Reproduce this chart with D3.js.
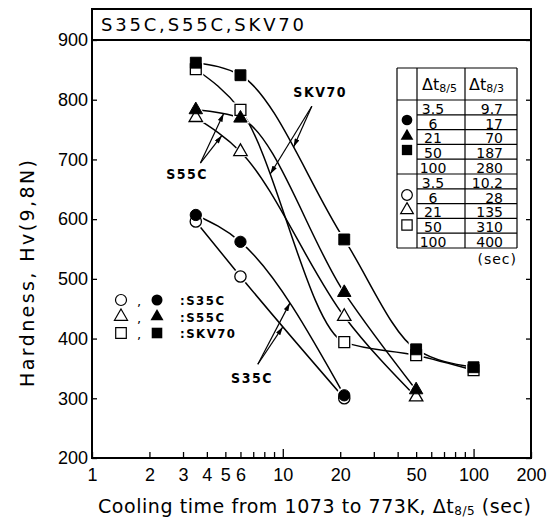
<!DOCTYPE html>
<html>
<head>
<meta charset="utf-8">
<script src="https://cdn.jsdelivr.net/npm/d3@7"></script>
<style>
  body { margin: 0; background: #fff; }
  svg { display: block; }
</style>
</head>
<body>
<div id="chart"></div>
<script>
// cooling time t8/5 (sec) of the measured points
const coolTimes = [3.5, 6, 21, 50, 100];

// Vickers hardness Hv, filled symbols
const s35cFilled = [607, 562, 305];
const s55cFilled = [783, 769, 477, 314];
const skv70Filled = [862, 841, 566, 382, 352];
// Vickers hardness Hv, open symbols
const s35cOpen = [596, 504, 300];
const s55cOpen = [770, 713, 437, 302];
const skv70Open = [851, 783, 394, 372, 347];

const xTicks = [1, 2, 3, 4, 5, 6, 7, 8, 9, 10, 20, 30, 40, 50, 60, 70, 80, 90, 100, 200];
const xTickLabels = [1, 2, 3, 4, 5, 6, 10, 20, 50, 100, 200];
const yTicks = [200, 300, 400, 500, 600, 700, 800, 900];

// t8/5 -> t8/3 table
const tableT85 = ["3.5", "6", "21", "50", "100"];
const tableT83Filled = ["9.7", "17", "70", "187", "280"];
const tableT83Open = ["10.2", "28", "135", "310", "400"];

const W = 558, H = 522;
const svg = d3.select("#chart").append("svg")
  .attr("width", W)
  .attr("height", H)
  .style("font-family", "'DejaVu Sans', sans-serif");

const x = d3.scaleLog().domain([1, 200]).range([92, 531]);
const y = d3.scaleLinear().domain([200, 900]).range([458, 40]);
const frameTop = 9;

const shapes = { circle: d3.symbolCircle, triangle: d3.symbolTriangle, square: d3.symbolSquare };
const sizes = { circle: 100, triangle: 78, square: 118 };

const series = [
  { name: "S35C", shape: "circle", open: true, values: s35cOpen },
  { name: "S55C", shape: "triangle", open: true, values: s55cOpen },
  { name: "SKV70", shape: "square", open: true, values: skv70Open },
  { name: "S35C", shape: "circle", open: false, values: s35cFilled },
  { name: "S55C", shape: "triangle", open: false, values: s55cFilled },
  { name: "SKV70", shape: "square", open: false, values: skv70Filled }
];
series.forEach(s => {
  s.points = s.values.map((v, i) => ({ t: coolTimes[i], hv: v }));
});

// axes (ticks point into the plot)
const xAxis = svg.append("g")
  .attr("transform", `translate(0,${y(200)})`)
  .call(d3.axisBottom(x)
    .tickValues(xTicks)
    .tickSizeInner(-6)
    .tickSizeOuter(0)
    .tickPadding(10)
    .tickFormat(d => xTickLabels.includes(d) ? d : ""));
xAxis.select(".domain").remove();
xAxis.selectAll(".tick line")
  .attr("y2", d => (d === 10 || d === 100) ? -9 : -6)
  .attr("stroke-width", 1.3);
xAxis.selectAll("text")
  .attr("font-family", "'Liberation Sans', Arial, sans-serif")
  .attr("font-size", 18)
  .attr("fill", "#000");

const yAxis = svg.append("g")
  .attr("transform", `translate(${x(1)},0)`)
  .call(d3.axisLeft(y).tickValues(yTicks).tickSizeInner(-5).tickSizeOuter(0).tickPadding(4));
yAxis.select(".domain").remove();
yAxis.selectAll(".tick line").attr("stroke-width", 1.3);
yAxis.selectAll("text")
  .attr("font-size", 18)
  .attr("fill", "#000");

const yAxisR = svg.append("g")
  .attr("transform", `translate(${x(200)},0)`)
  .call(d3.axisRight(y).tickValues(yTicks).tickSizeInner(-5).tickSizeOuter(0).tickFormat(""));
yAxisR.select(".domain").remove();
yAxisR.selectAll(".tick line").attr("stroke-width", 1.3);

// frame and title box
const frame = svg.append("g").attr("stroke", "#000").attr("fill", "none");
frame.append("path")
  .attr("d", `M${x(1)},${frameTop}V${y(200)}H${x(200)}V${frameTop}Z`)
  .attr("stroke-width", 2);
frame.append("line")
  .attr("x1", x(1)).attr("x2", x(200))
  .attr("y1", y(900)).attr("y2", y(900))
  .attr("stroke-width", 2);

svg.append("text")
  .attr("x", 101)
  .attr("y", 31)
  .attr("font-size", 18)
  .attr("textLength", 203)
  .attr("lengthAdjust", "spacing")
  .text("S35C,S55C,SKV70");

// axis titles
const xTitle = svg.append("text")
  .attr("x", 98)
  .attr("y", 513)
  .attr("font-size", 19)
  .attr("textLength", 433)
  .attr("lengthAdjust", "spacing");
xTitle.append("tspan").text("Cooling time from 1073 to 773K, \u0394t");
xTitle.append("tspan").attr("font-size", 12).attr("dy", 2).text("8/5");
xTitle.append("tspan").attr("dy", -2).text(" (sec)");

svg.append("text")
  .attr("transform", `translate(34,387) rotate(-90)`)
  .attr("font-size", 19)
  .attr("textLength", 227)
  .attr("lengthAdjust", "spacing")
  .text("Hardness,  Hv(9,8N)");

// curves
const line = d3.line()
  .x(d => x(d.t))
  .y(d => y(d.hv))
  .curve(d3.curveMonotoneX);

const curves = svg.append("g");
series.forEach(s => {
  s.path = curves.append("path")
    .datum(s.points)
    .attr("fill", "none")
    .attr("stroke", "#000")
    .attr("stroke-width", 1.5)
    .attr("d", line)
    .node();
});

// white halos leave a small gap between curves and symbols
const marks = svg.append("g");
series.forEach(s => {
  marks.selectAll(null)
    .data(s.points)
    .join("path")
    .attr("transform", d => `translate(${x(d.t)},${y(d.hv)})`)
    .attr("d", d3.symbol(shapes[s.shape], sizes[s.shape] * 1.9))
    .attr("fill", "#fff");
});
series.forEach(s => {
  marks.selectAll(null)
    .data(s.points)
    .join("path")
    .attr("transform", d => `translate(${x(d.t)},${y(d.hv)})`)
    .attr("d", d3.symbol(shapes[s.shape], sizes[s.shape]))
    .attr("fill", s.open ? "#fff" : "#000")
    .attr("stroke", "#000")
    .attr("stroke-width", s.open ? 1.3 : 1);
});

// leader arrows from the steel names to their curves
svg.append("defs").append("marker")
  .attr("id", "arrow")
  .attr("viewBox", "0 0 10 6")
  .attr("refX", 10)
  .attr("refY", 3)
  .attr("markerWidth", 9)
  .attr("markerHeight", 5)
  .attr("markerUnits", "userSpaceOnUse")
  .attr("orient", "auto")
  .append("path")
  .attr("d", "M0,0L10,3L0,6Z");

function pointAtX(node, px) {
  let lo = 0, hi = node.getTotalLength();
  for (let i = 0; i < 30; i++) {
    const mid = (lo + hi) / 2;
    if (node.getPointAtLength(mid).x < px) lo = mid; else hi = mid;
  }
  return node.getPointAtLength(lo);
}

const findSeries = (name, open) => series.find(s => s.name === name && s.open === open);

const callouts = [
  { name: "SKV70", label: [15.7, 813], from: [14.2, 789], targets: [[false, 11.4], [true, 8.6]] },
  { name: "S55C", label: [3.15, 676], from: [3.7, 694], targets: [[false, 4.9], [true, 4.8]] },
  { name: "S35C", label: [6.9, 334], from: [7.4, 357], targets: [[false, 10.9], [true, 10.0]] }
];

const notes = svg.append("g");
callouts.forEach(c => {
  const fx = x(c.from[0]), fy = y(c.from[1]);
  c.targets.forEach(([open, t]) => {
    const p = pointAtX(findSeries(c.name, open).path, x(t));
    notes.append("line")
      .attr("x1", fx).attr("y1", fy)
      .attr("x2", p.x).attr("y2", p.y)
      .attr("stroke", "#000")
      .attr("stroke-width", 1.2)
      .attr("marker-end", "url(#arrow)");
  });
  notes.append("text")
    .attr("x", x(c.label[0]))
    .attr("y", y(c.label[1]) + 5)
    .attr("text-anchor", "middle")
    .attr("font-family", "'Liberation Sans Narrow', 'DejaVu Sans Condensed', sans-serif")
    .attr("font-weight", "bold")
    .attr("font-size", 14)
    .attr("letter-spacing", 1.5)
    .text(c.name);
});

// symbol legend
const legendRows = ["S35C", "S55C", "SKV70"];
const legendShapes = ["circle", "triangle", "square"];
const legend = svg.append("g");
legendRows.forEach((name, i) => {
  const ly = 300 + i * 16.5;
  const sh = legendShapes[i];
  legend.append("path")
    .attr("transform", `translate(121,${ly})`)
    .attr("d", d3.symbol(shapes[sh], sizes[sh] * 0.95))
    .attr("fill", "#fff").attr("stroke", "#000").attr("stroke-width", 1.2);
  legend.append("text")
    .attr("x", 137).attr("y", ly + 6)
    .attr("font-size", 13)
    .text(",");
  legend.append("path")
    .attr("transform", `translate(157,${ly})`)
    .attr("d", d3.symbol(shapes[sh], sizes[sh] * 0.95))
    .attr("fill", "#000");
  legend.append("text")
    .attr("x", 180).attr("y", ly + 5)
    .attr("font-family", "'Liberation Sans Narrow', 'DejaVu Sans Condensed', sans-serif")
    .attr("font-weight", "bold")
    .attr("font-size", 13)
    .attr("letter-spacing", 1.5)
    .text(":" + name);
});

// t8/5 vs t8/3 table
const tb = { left: 397, c1: 417, c2: 465, right: 517, top: 68, head: 100, row: 14.8 };
const bottom = tb.head + tb.row * 10;
const table = svg.append("g").attr("stroke", "#000").attr("stroke-width", 1.2);
[tb.left, tb.c1, tb.c2, tb.right].forEach(cx => {
  table.append("line").attr("x1", cx).attr("x2", cx).attr("y1", tb.top).attr("y2", bottom);
});
[tb.top, tb.head, tb.head + tb.row * 5, bottom].forEach(ry => {
  table.append("line").attr("x1", tb.left).attr("x2", tb.right).attr("y1", ry).attr("y2", ry);
});
d3.range(1, 10).filter(i => i !== 5).forEach(i => {
  const ry = tb.head + tb.row * i;
  table.append("line").attr("x1", tb.c1).attr("x2", tb.right).attr("y1", ry).attr("y2", ry);
});

[[422, "8/5"], [469, "8/3"]].forEach(([hx, sub]) => {
  const h = svg.append("text").attr("x", hx).attr("y", 90).attr("font-size", 16);
  h.append("tspan").text("\u0394t");
  h.append("tspan").attr("font-size", 11).attr("dy", 2).text(sub);
});

const rows = tableT85.map((v, i) => ({ a: v, b: tableT83Filled[i] }))
  .concat(tableT85.map((v, i) => ({ a: v, b: tableT83Open[i] })));
rows.forEach((r, i) => {
  const by = tb.head + tb.row * (i + 1) - 1;
  svg.append("text")
    .attr("x", 433).attr("y", by)
    .attr("text-anchor", "middle")
    .attr("font-size", 14)
    .text(r.a);
  svg.append("text")
    .attr("x", 503).attr("y", by)
    .attr("text-anchor", "end")
    .attr("font-size", 14)
    .text(r.b);
});

const tableSymbols = [
  { shape: "circle", open: false, y: 120 },
  { shape: "triangle", open: false, y: 136 },
  { shape: "square", open: false, y: 150 },
  { shape: "circle", open: true, y: 195 },
  { shape: "triangle", open: true, y: 210 },
  { shape: "square", open: true, y: 225 }
];
tableSymbols.forEach(s => {
  svg.append("path")
    .attr("transform", `translate(407,${s.y})`)
    .attr("d", d3.symbol(shapes[s.shape], sizes[s.shape] * 0.9))
    .attr("fill", s.open ? "#fff" : "#000")
    .attr("stroke", "#000")
    .attr("stroke-width", s.open ? 1.2 : 0);
});

svg.append("text")
  .attr("x", tb.right).attr("y", 264)
  .attr("text-anchor", "end")
  .attr("font-size", 14)
  .attr("letter-spacing", 1)
  .text("(sec)");
</script>
</body>
</html>
